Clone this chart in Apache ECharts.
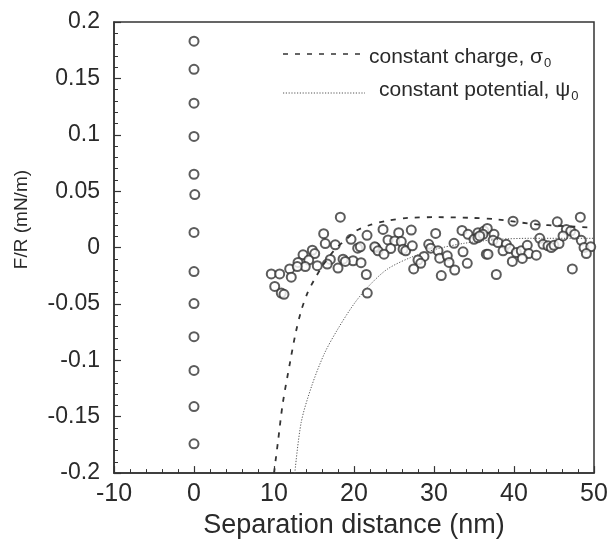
<!DOCTYPE html>
<html>
<head>
<meta charset="utf-8">
<script src="https://cdn.jsdelivr.net/npm/echarts@6/dist/echarts.min.js"></script>
<style>
html,body{margin:0;padding:0;background:#fff;}
#chart{width:611px;height:544px;}
</style>
</head>
<body>
<div id="chart"></div>
<script>
// Measured force data at zero separation (hard wall column)
var wallPoints = [
  [0, 0.183], [0, 0.158], [0, 0.128], [0, 0.0985], [0, 0.065], [0.1, 0.047], [0, 0.0134],
  [0, -0.0213], [0, -0.0497], [0, -0.079], [0, -0.109], [0, -0.141], [0, -0.174]
];
// Measured force data at finite separation
var measuredPoints = [
  [18.29, 0.0269], [16.21, 0.0123], [21.63, 0.0108], [19.63, 0.0073], [16.41, 0.0035],
  [17.66, 0.0024], [20.46, -0.0006], [20.79, 0.0006], [22.71, 0.0], [14.79, -0.0024],
  [13.63, -0.0064], [15.09, -0.0053], [14.34, -0.0111], [13.0, -0.0132], [17.04, -0.0105],
  [18.63, -0.0103], [19.88, -0.0117], [20.88, -0.0134], [15.41, -0.0161], [16.66, -0.0146],
  [18.0, -0.0182], [18.91, -0.0123], [13.91, -0.0169], [11.96, -0.019], [9.66, -0.0234],
  [10.71, -0.0234], [12.16, -0.0263], [21.54, -0.0239], [10.09, -0.0345], [10.91, -0.0404],
  [11.25, -0.0415], [21.66, -0.0404], [12.91, -0.0169],
  [23.63, 0.0161], [25.59, 0.0132], [27.16, 0.0155], [30.21, 0.0125], [33.5, 0.0152],
  [34.25, 0.0117], [35.5, 0.0132], [36.25, 0.0146], [24.25, 0.0068], [25.09, 0.0059],
  [25.91, 0.0053], [22.59, 0.0006], [23.0, -0.0029], [24.59, -0.0009], [26.13, -0.0015],
  [26.46, -0.0029], [27.29, 0.0015], [23.75, -0.0059], [29.34, 0.0029], [29.59, -0.0006],
  [30.5, -0.0029], [32.5, 0.0038], [33.63, -0.0038], [35.0, 0.0073], [35.5, 0.0088],
  [28.75, -0.0079], [28.0, -0.0111], [28.34, -0.014], [30.71, -0.0094], [31.66, -0.0073],
  [31.88, -0.0132], [34.16, -0.014], [27.46, -0.019], [32.59, -0.0199], [30.91, -0.0248],
  [36.54, -0.0059],
  [39.88, 0.0234], [42.66, 0.0199], [45.41, 0.0228], [48.29, 0.0269], [36.66, 0.0169],
  [36.13, 0.0117], [35.71, 0.0103], [37.5, 0.0117], [37.38, 0.0064], [38.0, 0.0044],
  [39.04, 0.0029], [38.63, -0.0029], [39.46, -0.0009], [36.75, -0.0059], [40.29, -0.0044],
  [40.91, -0.0029], [41.66, 0.002], [41.84, -0.0053], [42.79, -0.0068], [39.79, -0.0123],
  [41.04, -0.0096], [43.21, 0.0082], [43.63, 0.0029], [44.25, 0.0015], [44.66, 0.0],
  [45.0, 0.002], [45.63, 0.0035], [46.54, 0.0161], [47.09, 0.0146], [46.13, 0.0103],
  [47.59, 0.0117], [48.41, 0.0064], [48.75, 0.0], [49.59, 0.0006], [49.04, -0.0053],
  [37.79, -0.0239], [47.29, -0.019]
];
// Theory: constant charge
var constantCharge = [
  [10.0, -0.2], [10.5, -0.172], [11.1, -0.138], [12.0, -0.102], [12.7, -0.076],
  [13.4, -0.056], [14.2, -0.040], [15.0, -0.029], [16.0, -0.017], [17.0, -0.007],
  [18.0, 0.001], [19.0, 0.007], [20.3, 0.015], [22.0, 0.020], [24.0, 0.0235],
  [26.8, 0.0263], [30.5, 0.0269], [34.7, 0.0263], [38.0, 0.0249], [42.2, 0.021],
  [46.3, 0.019], [50.0, 0.0175]
];
// Theory: constant potential
var constantPotential = [
  [12.6, -0.2], [13.4, -0.155], [14.7, -0.123], [16.3, -0.094], [18.0, -0.072],
  [20.1, -0.049], [22.0, -0.033], [24.2, -0.019], [27.2, -0.0085], [30.5, -0.001],
  [33.8, 0.0038], [38.0, 0.0072], [42.2, 0.0082], [50.0, 0.0082]
];
var xTicks = { min: -10, max: 50, interval: 10 };
var yTicks = { min: -0.2, max: 0.2, interval: 0.05 };
var xLabel = 'Separation distance (nm)';
var yLabel = 'F/R (mN/m)';
var legendCharge = 'constant charge, σ';
var legendPotential = 'constant potential, ψ';

var font = 'Liberation Sans, Arial, Helvetica, sans-serif';
var ink = '#2a2a2a';

var chart = echarts.init(document.getElementById('chart'), null, {renderer: 'canvas'});
chart.setOption({
  animation: false,
  backgroundColor: '#fff',
  grid: { left: 114, right: 17, top: 22, bottom: 66, show: true, borderColor: '#333', borderWidth: 1.5 },
  xAxis: {
    type: 'value', min: xTicks.min, max: xTicks.max, interval: xTicks.interval,
    name: xLabel, nameLocation: 'middle', nameGap: 38,
    nameTextStyle: { fontFamily: font, fontSize: 27, color: ink },
    axisLine: { onZero: false, lineStyle: { color: '#333', width: 1.5 } },
    axisTick: { inside: true, length: 7, lineStyle: { color: '#333', width: 1.2 } },
    minorTick: { show: true, splitNumber: 5, length: 4, lineStyle: { color: '#333', width: 1 } },
    axisLabel: { fontFamily: font, fontSize: 25, color: ink, margin: 9 },
    splitLine: { show: false }
  },
  yAxis: {
    type: 'value', min: yTicks.min, max: yTicks.max, interval: yTicks.interval,
    name: yLabel, nameLocation: 'middle', nameGap: 83,
    nameTextStyle: { fontFamily: font, fontSize: 19, color: ink, padding: [0, 0, 0, 56] },
    axisLine: { onZero: false, lineStyle: { color: '#333', width: 1.5 } },
    axisTick: { inside: true, length: 7, lineStyle: { color: '#333', width: 1.2 } },
    minorTick: { show: true, splitNumber: 5, length: 4, lineStyle: { color: '#333', width: 1 } },
    axisLabel: { fontFamily: font, fontSize: 23, color: ink, margin: 14 },
    splitLine: { show: false }
  },
  graphic: [
    { type: 'line', shape: { x1: 283, y1: 54, x2: 365, y2: 54 },
      style: { stroke: '#333', lineWidth: 1.6, lineDash: [5, 7] } },
    { type: 'line', shape: { x1: 283, y1: 93, x2: 365, y2: 93 },
      style: { stroke: '#555', lineWidth: 1, lineDash: [1.2, 1.6] } },
    { type: 'text', x: 369, y: 57,
      style: { text: legendCharge + '{s|0}', font: '21px ' + font, fill: ink, verticalAlign: 'middle',
        rich: { s: { fontSize: 13, fontFamily: font, fill: ink, padding: [13, 0, 0, 1] } } } },
    { type: 'text', x: 379, y: 90,
      style: { text: legendPotential + '{s|0}', font: '21px ' + font, fill: ink, verticalAlign: 'middle',
        rich: { s: { fontSize: 13, fontFamily: font, fill: ink, padding: [13, 0, 0, 1] } } } }
  ],
  series: [
    { type: 'line', data: constantCharge, smooth: 0.3, showSymbol: false, clip: true,
      lineStyle: { color: '#333', width: 1.8, type: [5, 7] } },
    { type: 'line', data: constantPotential, smooth: 0.3, showSymbol: false, clip: true,
      lineStyle: { color: '#555', width: 1, type: [1.2, 1.6] } },
    { type: 'scatter', data: wallPoints, symbol: 'emptyCircle', symbolSize: 9,
      itemStyle: { color: '#333', borderColor: '#333', borderWidth: 1.4 } },
    { type: 'scatter', data: measuredPoints, symbol: 'emptyCircle', symbolSize: 9,
      itemStyle: { color: '#333', borderColor: '#333', borderWidth: 1.4 } }
  ]
});
</script>
</body>
</html>
